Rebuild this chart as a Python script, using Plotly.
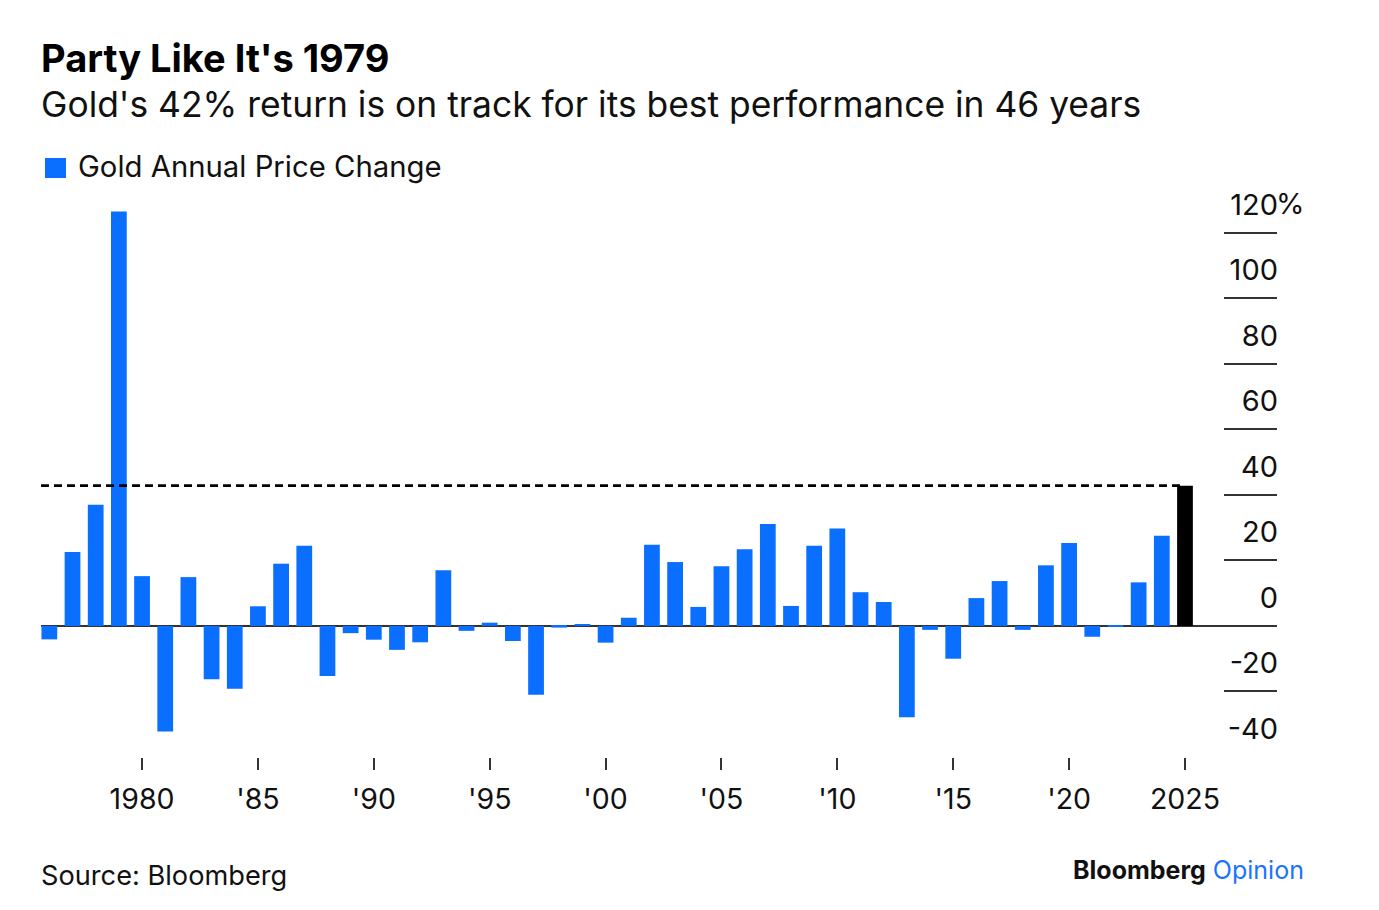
import plotly.graph_objects as go

# ---------------- data ----------------
years = list(range(1976, 2026))
gold_change = [
    -4.1, 22.6, 37.0, 126.5, 15.2, -32.2, 14.9, -16.3, -19.2, 6.0,   # 1976-1985
    19.0, 24.5, -15.3, -2.2, -4.2, -7.3, -5.0, 17.0, -1.5, 1.0,      # 1986-1995
    -4.6, -21.0, -0.5, 0.4, -5.1, 2.5, 24.8, 19.5, 5.8, 18.2,        # 1996-2005
    23.4, 31.1, 6.1, 24.5, 29.7, 10.3, 7.3, -27.9, -1.2, -10.0,      # 2006-2015
    8.5, 13.7, -1.2, 18.5, 25.3, -3.3, -0.3, 13.3, 27.5, 42.8,       # 2016-2025
]
x_tickvals = [1980, 1985, 1990, 1995, 2000, 2005, 2010, 2015, 2020, 2025]
x_ticktext = ["1980", "'85", "'90", "'95", "'00", "'05", "'10", "'15", "'20", "2025"]
y_tickvals = [-40, -20, 0, 20, 40, 60, 80, 100, 120]
y_ticktext = ["-40", "-20", "0", "20", "40", "60", "80", "100", "120"]

title = "Party Like It's 1979"
subtitle = "Gold's 42% return is on track for its best performance in 46 years"
legend_label = "Gold Annual Price Change"
source = "Source: Bloomberg"

# ---------------- style ----------------
W, H = 1379, 910
ML, MR, MT, MB = 41, 102, 180, 153
BLUE = "#0A6EFF"
BLACK = "#000000"
AXIS = "#333333"
FONT = "Inter, Liberation Sans, Arial, sans-serif"
X_RANGE = [1975.64, 2028.97]
Y_RANGE = [-40, 136.1]


def px_x(px):
    return (px - ML) / (W - ML - MR)


def px_y(py):
    return (H - MB - py) / (H - MT - MB)


colors = [BLUE] * (len(years) - 1) + [BLACK]

fig = go.Figure()
fig.add_trace(go.Bar(
    x=years, y=gold_change, marker=dict(color=colors, line=dict(width=0)),
    showlegend=False, hoverinfo="x+y",
))
# dashed reference line at the latest value
fig.add_trace(go.Scatter(
    x=[X_RANGE[0], years[-1]], y=[gold_change[-1], gold_change[-1]],
    mode="lines", line=dict(color=BLACK, width=2.8, dash="8px,5px"),
    showlegend=False, hoverinfo="skip",
))

annotations = [
    dict(text=f"<b>{title}</b>", x=px_x(39), y=px_y(58), xref="paper", yref="paper",
         xanchor="left", yanchor="middle", showarrow=False,
         font=dict(family=FONT, size=38, color="#000")),
    dict(text=subtitle, x=px_x(39), y=px_y(104), xref="paper", yref="paper",
         xanchor="left", yanchor="middle", showarrow=False,
         font=dict(family=FONT, size=35.4, color="#111")),
    dict(text=legend_label, x=px_x(76), y=px_y(167), xref="paper", yref="paper",
         xanchor="left", yanchor="middle", showarrow=False,
         font=dict(family=FONT, size=29.3, color="#111")),
    dict(text=source, x=px_x(39), y=px_y(875), xref="paper", yref="paper",
         xanchor="left", yanchor="middle", showarrow=False,
         font=dict(family=FONT, size=27.2, color="#111")),
    dict(text="<b>Bloomberg</b> <span style='color:#1A73FF'>Opinion</span>",
         x=px_x(1306), y=px_y(870), xref="paper", yref="paper",
         xanchor="right", yanchor="middle", showarrow=False,
         font=dict(family=FONT, size=25, color="#111")),
    dict(text="%", x=1, y=y_tickvals[-1], xref="paper", yref="y",
         xanchor="left", yanchor="bottom", showarrow=False, xshift=-3, yshift=10,
         font=dict(family=FONT, size=29, color="#111")),
]

shapes = [
    dict(type="rect", xref="paper", yref="paper",
         x0=px_x(45), x1=px_x(66), y0=px_y(178), y1=px_y(158),
         fillcolor=BLUE, line=dict(width=0)),
]

fig.update_layout(
    width=W, height=H,
    margin=dict(l=ML, r=MR, t=MT, b=MB),
    paper_bgcolor="white", plot_bgcolor="white",
    bargap=0.32,
    showlegend=False,
    annotations=annotations,
    shapes=shapes,
    font=dict(family=FONT, color="#111"),
    xaxis=dict(
        range=X_RANGE, tickvals=x_tickvals, ticktext=x_ticktext,
        ticks="outside", ticklen=12, tickwidth=2, tickcolor=AXIS,
        showgrid=False, zeroline=False, showline=False,
        tickfont=dict(family=FONT, size=28.5, color="#111"),
        ticklabelstandoff=5,
        fixedrange=True,
    ),
    yaxis=dict(
        range=Y_RANGE, side="right", tickvals=y_tickvals, ticktext=y_ticktext,
        ticks="inside", ticklen=53, tickwidth=2, tickcolor=AXIS,
        ticklabelposition="inside top",
        ticklabelshift=-7, ticklabelstandoff=-4,
        showgrid=False, showline=False,
        zeroline=True, zerolinecolor=AXIS, zerolinewidth=2,
        tickfont=dict(family=FONT, size=29, color="#111"),
        fixedrange=True,
    ),
)

fig.write_html("out.html")
